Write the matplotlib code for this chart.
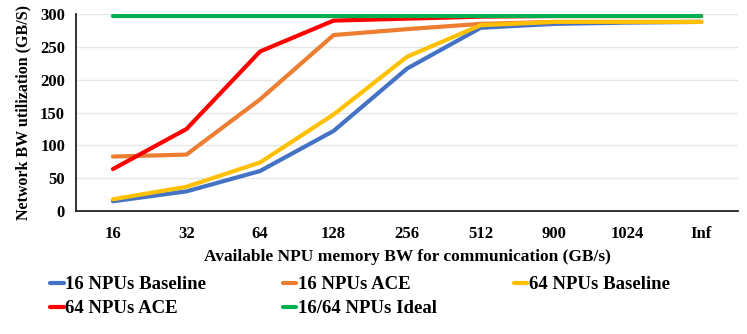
import matplotlib
matplotlib.use("Agg")
import matplotlib.pyplot as plt
import numpy as np

categories = ["16", "32", "64", "128", "256", "512", "900", "1024", "Inf"]
npu16_baseline = [15, 30, 61, 122, 217, 279, 285, 287, 288]
npu16_ace = [83, 86, 170, 268, 277, 285, 288, 288, 288]
npu64_baseline = [18, 37, 74, 147, 235, 283, 288, 288, 288]
npu64_ace = [64, 125, 243, 290, 293, 296, 297, 297, 297]
npu_ideal = [297, 297, 297, 297, 297, 297, 297, 297, 297]

series = [
    ("16 NPUs Baseline", npu16_baseline, "#4472C4"),
    ("16 NPUs ACE", npu16_ace, "#ED7D31"),
    ("64 NPUs Baseline", npu64_baseline, "#FFC000"),
    ("64 NPUs ACE", npu64_ace, "#FF0000"),
    ("16/64 NPUs Ideal", npu_ideal, "#00B050"),
]

plt.rcParams["font.family"] = ["Liberation Serif", "DejaVu Serif"]
plt.rcParams["font.weight"] = "bold"

fig = plt.figure(figsize=(7.47, 3.34), dpi=100)
ax = fig.add_axes([0.102, 0.368, 0.886, 0.59])

x = np.arange(len(categories))
handles = {}
for label, vals, color in series:
    line, = ax.plot(x, vals, color=color, linewidth=3, label=label,
                    solid_capstyle="round")
    handles[label] = line

ax.set_xlim(-0.5, len(categories) - 0.5)
ax.set_ylim(0, 300)
ax.set_yticks(range(0, 301, 50))
ax.set_xticks(x)
ax.set_xticklabels(categories)
ax.tick_params(axis="x", length=0, labelsize=12, pad=11)
ax.tick_params(axis="y", length=0, labelsize=12, pad=8)
for lab in ax.get_xticklabels() + ax.get_yticklabels():
    lab.set_fontweight("bold")
ax.grid(True, axis="y", color="#e6e6e6", linewidth=1)
ax.set_axisbelow(True)
for s in ["top", "right"]:
    ax.spines[s].set_visible(False)
for s in ["left", "bottom"]:
    ax.spines[s].set_color("#222222")
    ax.spines[s].set_linewidth(1.3)

ax.set_xlabel("Available NPU memory BW for communication (GB/s)",
              fontsize=12.5, fontweight="bold", labelpad=5)
ax.set_ylabel("Network BW utilization (GB/S)", fontsize=11.5, fontweight="bold",
              labelpad=6)

# legend is filled column by column, so reorder to get row-major layout
order = ["16 NPUs Baseline", "64 NPUs ACE", "16 NPUs ACE",
         "16/64 NPUs Ideal", "64 NPUs Baseline"]
fig.legend([handles[k] for k in order], order,
           loc="lower left", bbox_to_anchor=(0.045, 0.0), ncol=3,
           frameon=False, handlelength=0.7, handletextpad=0.1,
           columnspacing=4.1, labelspacing=0.35,
           prop={"weight": "bold", "size": 13.5})

fig.savefig("out.png", dpi=100)
